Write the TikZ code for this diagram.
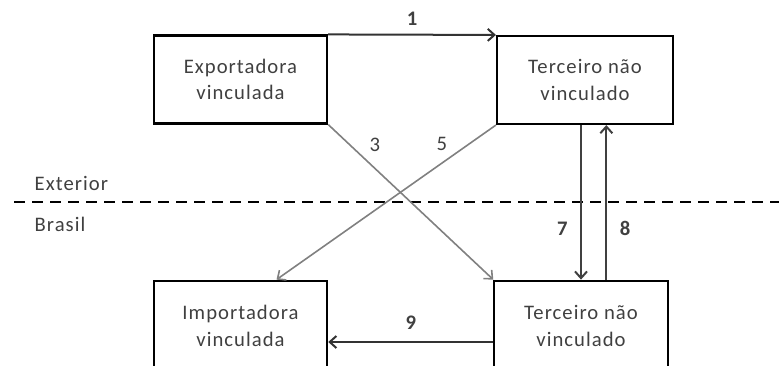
\documentclass[tikz,border=0pt]{standalone}
\usepackage{fontspec}
\setmainfont{Carlito}[LetterSpace=5.0]
\usetikzlibrary{arrows.meta}
\definecolor{cinzae}{rgb}{0.25,0.25,0.25}
\definecolor{cinzac}{rgb}{0.5,0.5,0.5}

\begin{document}
\begin{tikzpicture}[x=0.75pt, y=-0.75pt,
    caixa/.style={draw=black, line width=1.6pt, minimum width=130pt, minimum height=66pt, align=center, text=cinzae, font=\fontsize{15.5}{20}\selectfont},
    seta/.style={line width=1.5pt, color=cinzae, -{Straight Barb[length=5pt,width=9pt]}},
    rotulo/.style={font=\fontsize{15.5}{18}\selectfont\bfseries, color=cinzae}]
    \path[use as bounding box, clip] (0,0) rectangle (779,365);
    \node[caixa] (exp) at (240.5,79.5) {Exportadora\\vinculada};
    \node[caixa, minimum width=132pt] (ter1) at (585,80) {Terceiro não\\vinculado};
    \node[caixa, minimum height=68pt] (imp) at (240.5,326) {Importadora\\vinculada};
    \node[caixa, minimum height=68pt] (ter2) at (581,326) {Terceiro não\\vinculado};
    \node[text=cinzae, anchor=west, font=\fontsize{15.5}{18}\selectfont] (ext) at (30,183) {Exterior};
    \node[text=cinzae, anchor=west, font=\fontsize{15.5}{18}\selectfont] (bra) at (30,224) {Brasil};
    \coordinate (d1) at (14,202);
    \coordinate (d2) at (779,202);
    \draw[line width=1.5pt, dash pattern=on 8pt off 5.5pt] (d1) -- (d2);
    % fluxos
    \draw[seta, color=black!80] (exp.north east) -- node[rotulo, above=3pt]{1} (ter1.north west);
    \draw[seta, line width=1.2pt, color=cinzac] (exp.south east) -- node[pos=.13, right=11pt, color=cinzae, font=\fontsize{15.5}{18}\selectfont]{3} (ter2.north west);
    \draw[seta, line width=1.2pt, color=cinzac] (ter1.south west) -- node[pos=.12, left=13pt, color=cinzae, font=\fontsize{15.5}{18}\selectfont]{5} ([xshift=27pt]imp.north);
    \draw[seta] (ter1.south -| ter2.north) -- node[rotulo, pos=.67, left=6pt]{7} (ter2.north);
    \draw[seta] ([xshift=19pt]ter2.north) -- node[rotulo, pos=.33, right=6pt]{8} ([xshift=19pt]ter2.north |- ter1.south);
    \draw[seta, color=black!80] ([yshift=-12pt]ter2.west) -- node[rotulo, above=5pt]{9} ([yshift=-12pt]ter2.west -| imp.east);
\end{tikzpicture}
\end{document}
